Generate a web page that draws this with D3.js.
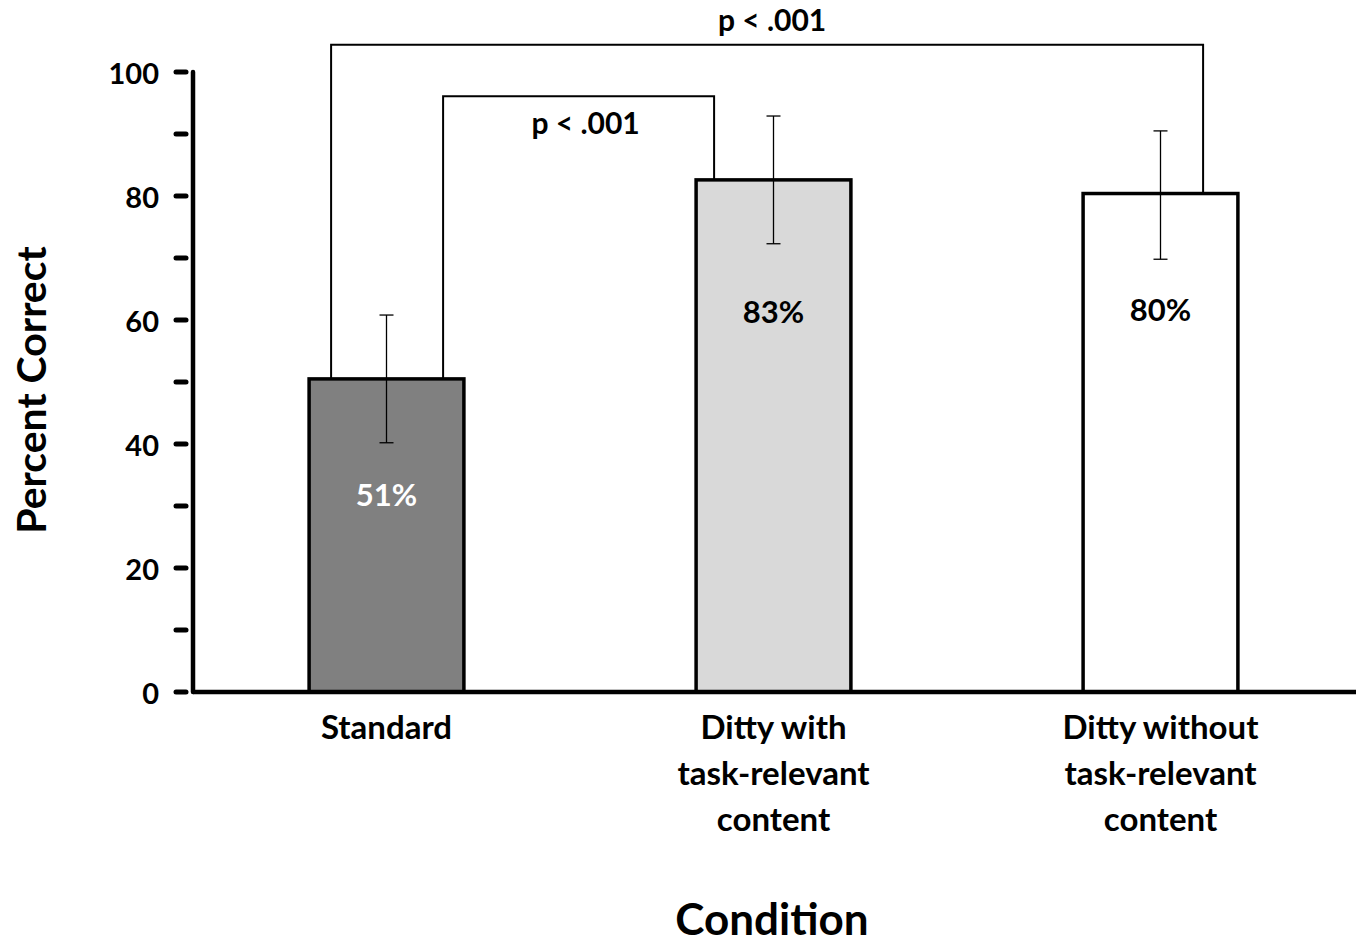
<!doctype html>
<html lang="en">
<head>
  <meta charset="UTF-8">
  <title>Percent Correct by Condition</title>
  <script src="https://cdn.jsdelivr.net/npm/d3@7/dist/d3.min.js"></script>
  <style>
    body { margin: 0; background: #fff; }
    text { font-family: "Lato", "Open Sans", sans-serif; font-weight: bold; }
  </style>
</head>
<body>
<div id="chart"></div>
<script>
  // data
  var categories = ["Standard", "Ditty with\ntask-relevant\ncontent", "Ditty without\ntask-relevant\ncontent"];
  var means      = [50.5, 82.6, 80.4];
  var errLow     = [40.2, 72.3, 69.8];
  var errHigh    = [60.8, 92.9, 90.5];
  var barLabels  = ["51%", "83%", "80%"];
  var labelY     = [32, 61.5, 61.8];
  var barFills   = ["#808080", "#d9d9d9", "#ffffff"];
  var labelFills = ["#ffffff", "#000000", "#000000"];
  var majorTicks = [0, 20, 40, 60, 80, 100];
  var minorTicks = [10, 30, 50, 70, 90];
  // significance brackets between bars
  var brackets = [
    {from: 0, to: 1, top: 96.1, dl: 134, dr: 18, text: "p < .001", tx: 7, ty: 92},
    {from: 0, to: 2, top: 104.4, dl: 22, dr: 120, text: "p < .001", tx: 5, ty: 108.5}
  ];

  var width = 1363, height = 944;
  var svg = d3.select("#chart").append("svg")
      .attr("width", width)
      .attr("height", height);

  var x = d3.scaleBand()
      .domain(d3.range(categories.length))
      .range([193, 1354])
      .paddingInner(0.6)
      .paddingOuter(0.3);

  var y = d3.scaleLinear()
      .domain([0, 100])
      .range([692, 72]);

  // brackets (drawn first so bars sit on top of the legs)
  brackets.forEach(function(b) {
    var x1 = x(b.from) + b.dl,
        x2 = x(b.to) + b.dr;
    var y1 = y(means[b.from]), y2 = y(means[b.to]);
    svg.append("path")
        .attr("d", "M" + x1 + "," + y1 + "V" + y(b.top) + "H" + x2 + "V" + y2)
        .attr("fill", "none")
        .attr("stroke", "#000")
        .attr("stroke-width", 2);
    svg.append("text")
        .attr("x", (x1 + x2) / 2 + b.tx)
        .attr("y", y(b.ty))
        .attr("text-anchor", "middle")
        .attr("dominant-baseline", "central")
        .style("font-size", "30px")
        .text(b.text);
  });

  // bars
  svg.selectAll("rect.bar")
      .data(means)
      .enter().append("rect")
      .attr("class", "bar")
      .attr("x", function(d, i) { return x(i); })
      .attr("y", function(d) { return y(d); })
      .attr("width", x.bandwidth())
      .attr("height", function(d) { return y(0) - y(d); })
      .attr("fill", function(d, i) { return barFills[i]; })
      .attr("stroke", "#000")
      .attr("stroke-width", 3.5);

  // error bars
  var cx = function(i) { return x(i) + x.bandwidth() / 2; };
  var eb = svg.append("g").attr("stroke", "#000").attr("stroke-width", 1.3);
  means.forEach(function(d, i) {
    eb.append("line").attr("x1", cx(i)).attr("x2", cx(i)).attr("y1", y(errLow[i])).attr("y2", y(errHigh[i]));
    eb.append("line").attr("x1", cx(i) - 7).attr("x2", cx(i) + 7).attr("y1", y(errLow[i])).attr("y2", y(errLow[i]));
    eb.append("line").attr("x1", cx(i) - 7).attr("x2", cx(i) + 7).attr("y1", y(errHigh[i])).attr("y2", y(errHigh[i]));
  });

  // value labels
  svg.selectAll("text.val")
      .data(barLabels)
      .enter().append("text")
      .attr("class", "val")
      .attr("x", function(d, i) { return cx(i); })
      .attr("y", function(d, i) { return y(labelY[i]); })
      .attr("text-anchor", "middle")
      .attr("dominant-baseline", "central")
      .attr("fill", function(d, i) { return labelFills[i]; })
      .style("font-size", "31px")
      .text(function(d) { return d; });

  // axes
  svg.append("line")
      .attr("x1", 193).attr("x2", 193)
      .attr("y1", y(100)).attr("y2", y(0))
      .attr("stroke", "#000").attr("stroke-width", 4.5).attr("stroke-linecap", "round");
  svg.append("line")
      .attr("x1", 193).attr("x2", 1356)
      .attr("y1", y(0)).attr("y2", y(0))
      .attr("stroke", "#000").attr("stroke-width", 4.5);

  svg.selectAll("line.tick")
      .data(majorTicks.concat(minorTicks))
      .enter().append("line")
      .attr("class", "tick")
      .attr("x1", 176).attr("x2", 186)
      .attr("y1", function(d) { return y(d); })
      .attr("y2", function(d) { return y(d); })
      .attr("stroke", "#000").attr("stroke-width", 5).attr("stroke-linecap", "round");

  svg.selectAll("text.tickl")
      .data(majorTicks)
      .enter().append("text")
      .attr("class", "tickl")
      .attr("x", 159)
      .attr("y", function(d) { return y(d); })
      .attr("text-anchor", "end")
      .attr("dominant-baseline", "central")
      .style("font-size", "29px")
      .text(function(d) { return d; });

  // category labels
  categories.forEach(function(c, i) {
    var t = svg.append("text")
        .attr("x", cx(i))
        .attr("y", 727)
        .attr("text-anchor", "middle")
        .style("font-size", "33px");
    c.split("\n").forEach(function(line, j) {
      t.append("tspan")
          .attr("x", cx(i))
          .attr("dy", j == 0 ? "0.35em" : 46)
          .text(line);
    });
  });

  // axis titles
  svg.append("text")
      .attr("x", 772).attr("y", 918)
      .attr("text-anchor", "middle")
      .attr("dominant-baseline", "central")
      .style("font-size", "44px")
      .text("Condition");
  svg.append("text")
      .attr("transform", "translate(30,390) rotate(-90)")
      .attr("text-anchor", "middle")
      .attr("dominant-baseline", "central")
      .style("font-size", "41px")
      .text("Percent Correct");
</script>
</body>
</html>
